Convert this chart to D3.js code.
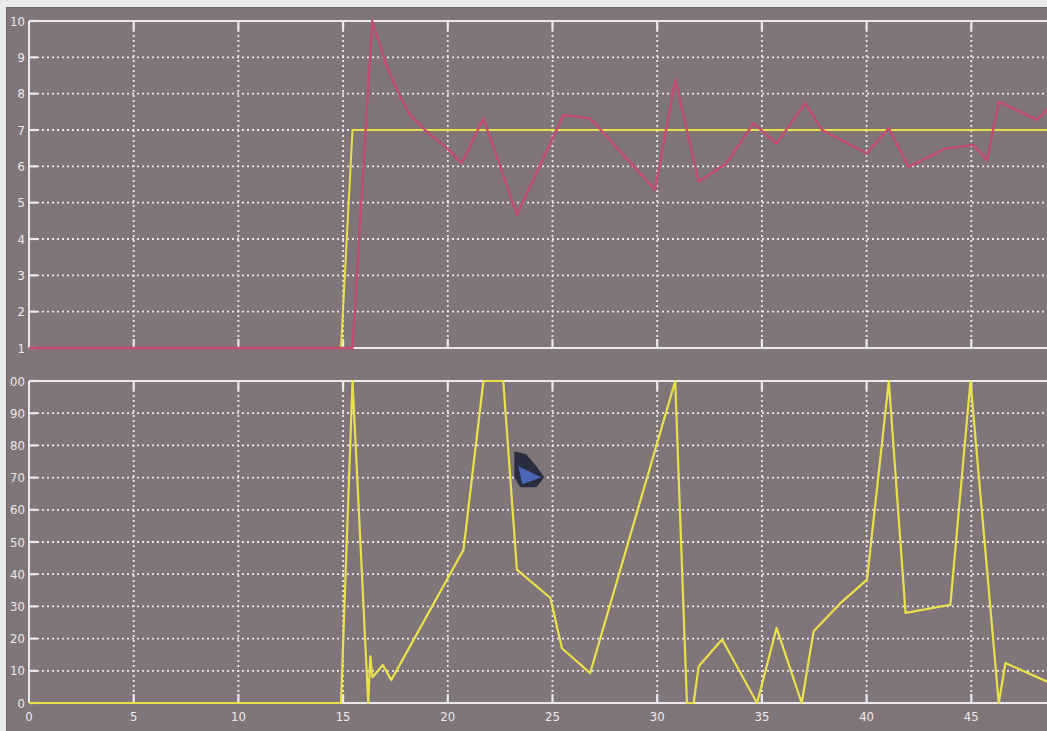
<!DOCTYPE html>
<html><head><meta charset="utf-8">
<script src="https://cdn.jsdelivr.net/npm/d3@7"></script>
<style>
html,body{margin:0;padding:0;background:#ecebec;overflow:hidden}
svg{display:block}
text{font-family:"DejaVu Sans Condensed","Liberation Sans",sans-serif;fill:#ece8ee}
</style></head><body>
<svg id="c" width="1047" height="731"></svg>
<script>
// ---- data ----
const xTicks = [0,5,10,15,20,25,30,35,40,45];
const topTicks = [1,2,3,4,5,6,7,8,9,10];
const botTicks = [0,10,20,30,40,50,60,70,80,90,100];
// top panel: setpoint (yellow) and response (pink)
const setX = [0, 14.9, 15.45, 50];
const setY = [1, 1, 7, 7];
const respX = [0, 15.45, 16.39, 17.09, 17.73, 18.2, 19.0, 19.96, 20.67, 21.7, 23.3, 25.53, 26.8, 29.9, 30.86, 31.98, 33.3, 34.6, 35.7, 37.07, 37.87, 40.0, 41.06, 42.0, 43.77, 45.1, 45.75, 46.31, 48.14, 48.6, 49.2];
const respY = [1, 1, 10, 8.74, 7.92, 7.41, 6.95, 6.5, 6.08, 7.32, 4.66, 7.41, 7.32, 5.35, 8.38, 5.58, 6.08, 7.18, 6.63, 7.74, 7.0, 6.36, 7.05, 5.99, 6.49, 6.59, 6.17, 7.78, 7.28, 7.55, 7.4];
// bottom panel: control output (yellow)
const outX = [0, 14.9, 15.45, 16.2, 16.3, 16.4, 16.9, 17.3, 20.75, 21.7, 22.65, 23.3, 24.9, 25.45, 26.8, 30.86, 31.42, 31.74, 31.98, 33.1, 34.77, 35.7, 36.9, 37.47, 38.75, 40.02, 41.06, 41.86, 44.0, 44.96, 46.31, 46.63, 48.6, 49.5];
const outY = [0, 0, 100, 0, 14.5, 8, 11.8, 7.1, 47.6, 100, 100, 41.4, 32.6, 17.0, 9.3, 100, 0, 0, 11.4, 19.7, 0, 23.3, 0, 22.3, 31, 38.3, 100, 28, 30.5, 100, 0, 12.4, 6.7, 4];

const svg = d3.select("#c");
const BG = "#80767a", WHITE = "#ece8f0";
svg.append("defs").append("clipPath").attr("id","lab")
  .append("rect").attr("x",9).attr("y",8).attr("width",1038).attr("height",723);
svg.append("rect").attr("x",6).attr("y",7).attr("width",1041).attr("height",724).attr("fill","#6e6769");
svg.append("rect").attr("x",7).attr("y",8).attr("width",1040).attr("height",723).attr("fill",BG);

const x = d3.scaleLinear().domain([0,50]).range([29,1076]);
const yT = d3.scaleLinear().domain([1,10]).range([348,21]);
const yB = d3.scaleLinear().domain([0,100]).range([703,381]);

function panel(y, ticks, top, bottom){
  const g = svg.append("g");
  g.selectAll(".hg").data(ticks.slice(1,-1)).join("line")
    .attr("x1",37).attr("x2",1047).attr("y1",d=>y(d)).attr("y2",d=>y(d))
    .attr("stroke",WHITE).attr("stroke-width",1.8).attr("stroke-dasharray","2,3");
  g.selectAll(".vg").data(xTicks.slice(1)).join("line")
    .attr("x1",d=>x(d)).attr("x2",d=>x(d)).attr("y1",top+9).attr("y2",bottom-9)
    .attr("stroke",WHITE).attr("stroke-width",1.8).attr("stroke-dasharray","2,3");
  g.selectAll(".lt").data(ticks).join("line")
    .attr("x1",29).attr("x2",37).attr("y1",d=>y(d)).attr("y2",d=>y(d))
    .attr("stroke",WHITE).attr("stroke-width",2.2);
  g.selectAll(".tt").data(xTicks.slice(1)).join("line")
    .attr("x1",d=>x(d)).attr("x2",d=>x(d)).attr("y1",top).attr("y2",top+9)
    .attr("stroke",WHITE).attr("stroke-width",2.2);
  g.selectAll(".bt").data(xTicks.slice(1)).join("line")
    .attr("x1",d=>x(d)).attr("x2",d=>x(d)).attr("y1",bottom-9).attr("y2",bottom)
    .attr("stroke",WHITE).attr("stroke-width",2.2);
  g.append("line").attr("x1",29).attr("x2",1047).attr("y1",top).attr("y2",top).attr("stroke",WHITE).attr("stroke-width",2);
  g.append("line").attr("x1",29).attr("x2",1047).attr("y1",bottom).attr("y2",bottom).attr("stroke",WHITE).attr("stroke-width",2);
  g.append("line").attr("x1",29).attr("x2",29).attr("y1",top).attr("y2",bottom).attr("stroke",WHITE).attr("stroke-width",2);
  g.append("g").attr("clip-path","url(#lab)")
    .selectAll(".yl").data(ticks).join("text")
    .attr("x",25).attr("y",d=>y(d)).attr("dy","0.36em").attr("text-anchor","end")
    .attr("font-size",13).text(d=>d);
}
panel(yT, topTicks, 21, 348);
panel(yB, botTicks, 381, 703);

svg.selectAll(".xl").data(xTicks).join("text")
  .attr("x",d=>x(d)).attr("y",716).attr("dy","0.36em").attr("text-anchor","middle")
  .attr("font-size",13).text(d=>d);

const line = (xs, ys, y) => d3.line().x((d,i)=>x(xs[i])).y(d=>y(d))(ys);
svg.append("path").attr("d",line(setX,setY,yT)).attr("fill","none").attr("stroke","#e6e04a").attr("stroke-width",2);
svg.append("path").attr("d",line(respX,respY,yT)).attr("fill","none").attr("stroke","#c64b70").attr("stroke-width",2.3).attr("stroke-linejoin","round");
svg.append("path").attr("d",line(outX,outY,yB)).attr("fill","none").attr("stroke","#e8e24a").attr("stroke-width",2.2).attr("stroke-linejoin","round");

// mouse cursor artifact
const cx = x(23.75), cy = yB(72);
svg.append("path")
  .attr("d",`M${cx-12},${cy-20} L${cx},${cy-17} L${cx+10},${cy-5} L${cx+18},${cy+6} L${cx+10},${cy+16} L${cx-6},${cy+16} L${cx-12},${cy+6} Z`)
  .attr("fill","#2a2d3e");
svg.append("path")
  .attr("d",`M${cx-8},${cy-5} L${cx+15},${cy+6} L${cx-4},${cy+13} Z`)
  .attr("fill","#4a66b4");
</script>
</body></html>
